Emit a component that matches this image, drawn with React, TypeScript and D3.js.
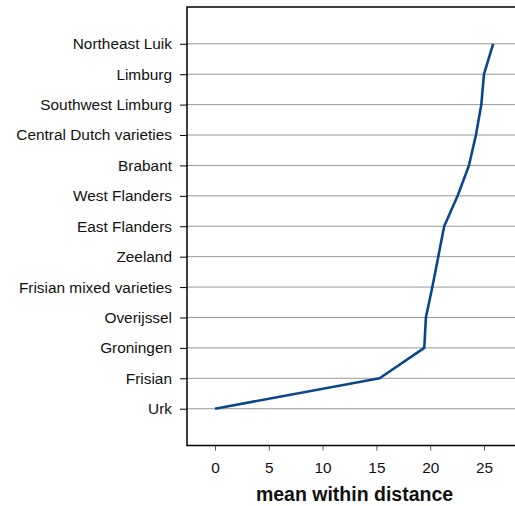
import React, { useEffect, useRef } from "react";
import * as d3 from "d3";

// bottom to top
const varieties = [
  "Urk",
  "Frisian",
  "Groningen",
  "Overijssel",
  "Frisian mixed varieties",
  "Zeeland",
  "East Flanders",
  "West Flanders",
  "Brabant",
  "Central Dutch varieties",
  "Southwest Limburg",
  "Limburg",
  "Northeast Luik"
];
const meanWithin = [0, 15.3, 19.45, 19.6, 20.2, 20.75, 21.3, 22.55, 23.6, 24.25, 24.75, 25.0, 25.85];
const xTicks = [0, 5, 10, 15, 20, 25];

export default function App() {
  const ref = useRef<SVGSVGElement>(null);
  const width = 515;
  const height = 506;

  useEffect(() => {
    const svg = d3.select(ref.current);
    const plot = { left: 187, top: 7, bottom: 445.5, right: 540 };
    const font = "Liberation Sans, Arial, Helvetica, sans-serif";

    const x = d3.scaleLinear().domain([0, 25]).range([215, 484]);
    const y = d3
      .scaleLinear()
      .domain([-1.21, varieties.length - 1 + 1.21])
      .range([plot.bottom, plot.top]);

    // grid lines
    svg
      .append("g")
      .selectAll("line")
      .data(varieties)
      .join("line")
      .attr("x1", plot.left)
      .attr("x2", plot.right)
      .attr("y1", (d, i) => y(i))
      .attr("y2", (d, i) => y(i))
      .attr("stroke", "#999")
      .attr("stroke-width", 1);

    // y axis
    const yAxis = d3
      .axisLeft(y)
      .tickValues(d3.range(varieties.length))
      .tickFormat(i => varieties[i as number])
      .tickSize(7)
      .tickPadding(8);
    svg
      .append("g")
      .attr("transform", `translate(${plot.left},0)`)
      .call(yAxis)
      .call(g => g.select(".domain").remove())
      .call(g => g.selectAll(".tick line").attr("stroke", "#000"))
      .call(g =>
        g
          .selectAll(".tick text")
          .attr("font-family", font)
          .attr("font-size", 15.4)
          .attr("fill", "#111")
      );

    // x axis
    const xAxis = d3
      .axisBottom(x)
      .tickValues(xTicks)
      .tickSize(5)
      .tickPadding(12);
    svg
      .append("g")
      .attr("transform", `translate(0,${plot.bottom})`)
      .call(xAxis)
      .call(g => g.select(".domain").remove())
      .call(g => g.selectAll(".tick line").attr("stroke", "#555"))
      .call(g =>
        g
          .selectAll(".tick text")
          .attr("font-family", font)
          .attr("font-size", 15.4)
          .attr("fill", "#111")
      );

    // frame
    svg
      .append("rect")
      .attr("x", plot.left)
      .attr("y", plot.top)
      .attr("width", plot.right - plot.left)
      .attr("height", plot.bottom - plot.top)
      .attr("fill", "none")
      .attr("stroke", "#000")
      .attr("stroke-width", 1.5);

    // line
    const line = d3
      .line<number>()
      .x(d => x(d))
      .y((d, i) => y(i));
    svg
      .append("path")
      .datum(meanWithin)
      .attr("d", line)
      .attr("fill", "none")
      .attr("stroke", "#0a468a")
      .attr("stroke-width", 2.6)
      .attr("stroke-linejoin", "round");

    svg
      .append("text")
      .attr("x", 354.5)
      .attr("y", 501)
      .attr("text-anchor", "middle")
      .attr("font-family", font)
      .attr("font-size", 19.5)
      .attr("font-weight", "bold")
      .attr("fill", "#111")
      .text("mean within distance");

    return () => {
      svg.html("");
    };
  }, []);

  return (
    <svg
      ref={ref}
      width={width}
      height={height}
      style={{ position: "absolute", left: 0, top: 0, background: "#fff" }}
    />
  );
}
